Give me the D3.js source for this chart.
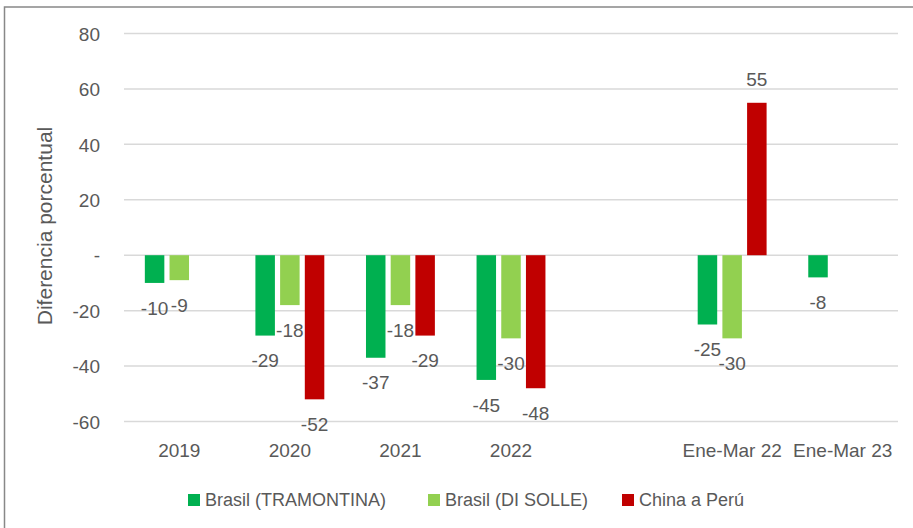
<html>
<head>
<meta charset="utf-8">
<title>Diferencia porcentual</title>
<script src="https://cdn.jsdelivr.net/npm/d3@7"></script>
<style>
body { margin: 0; background: #fff; }
text { font-family: "Liberation Sans", Arial, sans-serif; fill: #595959; }
</style>
</head>
<body>
<svg id="chart" width="913" height="528"></svg>

<script>
// data
var categories = ["2019", "2020", "2021", "2022", "", "Ene-Mar 22", "Ene-Mar 23"];
var tramontina = [-10, -29, -37, -45, null, -25, -8];
var disolle    = [-9, -18, -18, -30, null, -30, null];
var china      = [null, -52, -29, -48, null, 55, null];
var seriesNames = ["Brasil (TRAMONTINA)", "Brasil (DI SOLLE)", "China a Perú"];
var yTicks = [-60, -40, -20, 0, 20, 40, 60, 80];

var colors = ["#00B050", "#92D050", "#C00000"];
var allSeries = [tramontina, disolle, china];

var svg = d3.select("#chart");

// chart frame
svg.append("rect")
  .attr("x", 4.5).attr("y", 7)
  .attr("width", 940).attr("height", 540)
  .attr("fill", "none")
  .attr("stroke", "#888")
  .attr("stroke-width", 1.5);

var x = d3.scaleBand()
  .domain(d3.range(categories.length))
  .range([124, 898]);

var y = d3.scaleLinear()
  .domain([-60, 80])
  .range([421.5, 33.5]);

var barW = 19.5, step = 24.7;

// gridlines
svg.append("g")
  .selectAll("line")
  .data(yTicks)
  .enter().append("line")
  .attr("x1", 124).attr("x2", 898)
  .attr("y1", function(d) { return y(d); })
  .attr("y2", function(d) { return y(d); })
  .attr("stroke", "#d9d9d9")
  .attr("stroke-width", 1.5);

// y axis labels
var yAxis = svg.append("g")
  .attr("transform", "translate(100,0)")
  .call(d3.axisLeft(y)
    .tickValues(yTicks)
    .tickSize(0)
    .tickPadding(0)
    .tickFormat(function(d) { return d === 0 ? "-" : d; }));
yAxis.select(".domain").remove();
yAxis.selectAll("text")
  .style("font-size", "19px")
  .attr("fill", "#595959")
  .attr("dy", "0.35em");

// x axis labels
var xAxis = svg.append("g")
  .attr("transform", "translate(0,450)")
  .call(d3.axisBottom(x)
    .tickSize(0)
    .tickPadding(0)
    .tickFormat(function(i) { return categories[i]; }));
xAxis.select(".domain").remove();
xAxis.selectAll("text")
  .style("font-size", "19px")
  .attr("fill", "#595959")
  .attr("dy", "0.35em");

// bars + labels
allSeries.forEach(function(vals, s) {
  var pts = vals.map(function(v, i) { return {i: i, v: v}; })
                .filter(function(d) { return d.v !== null; });
  var cx = function(d) { return x(d.i) + x.bandwidth() / 2 + (s - 1) * step; };

  svg.append("g")
    .selectAll("rect")
    .data(pts)
    .enter().append("rect")
    .attr("x", function(d) { return cx(d) - barW / 2; })
    .attr("y", function(d) { return Math.min(y(d.v), y(0)); })
    .attr("width", barW)
    .attr("height", function(d) { return Math.abs(y(d.v) - y(0)); })
    .attr("fill", colors[s]);

  svg.append("g")
    .selectAll("text")
    .data(pts)
    .enter().append("text")
    .attr("x", cx)
    .attr("y", function(d) { return d.v < 0 ? y(d.v) + 25 : y(d.v) - 23; })
    .attr("dy", "0.35em")
    .style("text-anchor", "middle")
    .style("font-size", "19px")
    .text(function(d) { return d.v; });
});

// y axis title
svg.append("text")
  .attr("transform", "translate(45,226) rotate(-90)")
  .attr("dy", "0.35em")
  .style("text-anchor", "middle")
  .style("font-size", "21px")
  .text("Diferencia porcentual");

// legend
var legendX = [188, 428, 622];
var legend = svg.append("g")
  .selectAll("g")
  .data(seriesNames)
  .enter().append("g")
  .attr("transform", function(d, i) { return "translate(" + legendX[i] + ",500)"; });

legend.append("rect")
  .attr("x", 0).attr("y", -6)
  .attr("width", 12).attr("height", 12)
  .attr("fill", function(d, i) { return colors[i]; });

legend.append("text")
  .attr("x", 17)
  .attr("dy", "0.35em")
  .style("font-size", "18px")
  .text(function(d) { return d; });
</script>
</body>
</html>
